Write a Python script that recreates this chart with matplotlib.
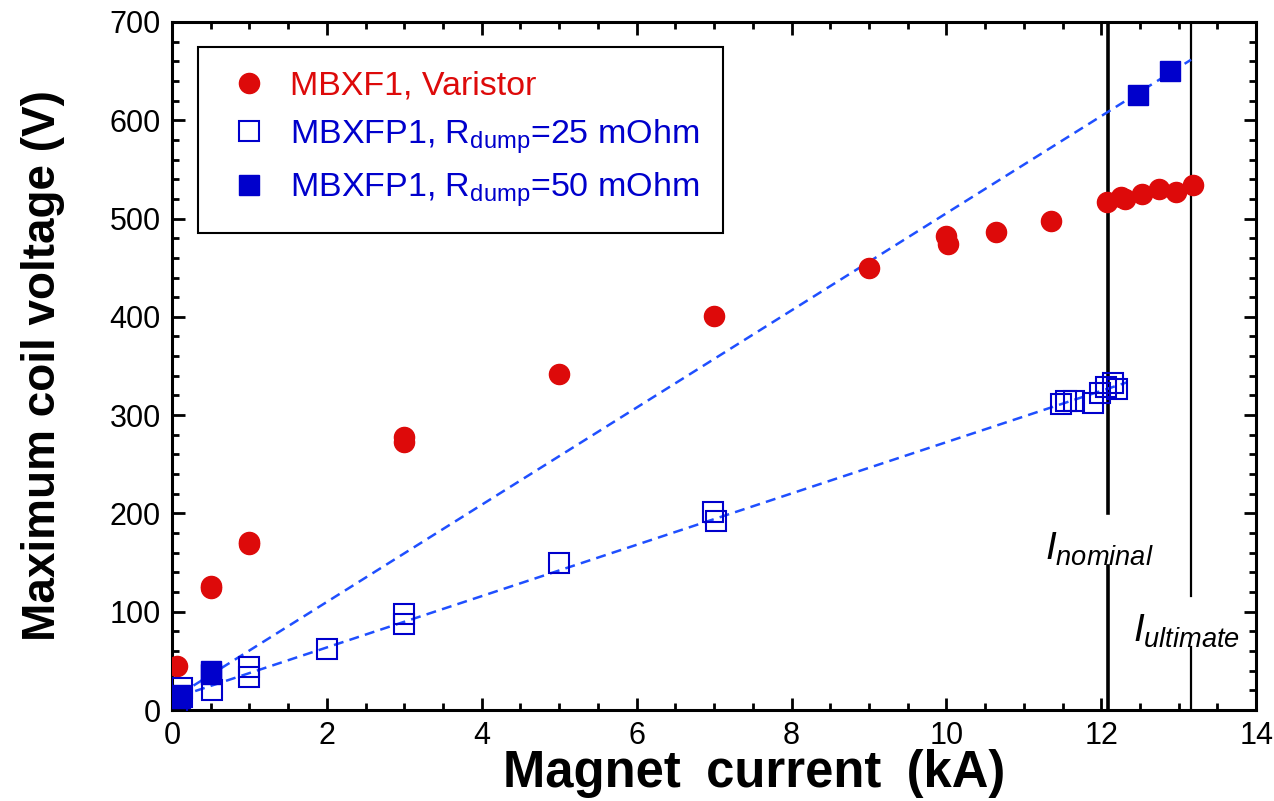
import numpy as np
import matplotlib
matplotlib.use("Agg")
import matplotlib.pyplot as plt
from matplotlib.ticker import MultipleLocator

plt.rcParams['font.family'] = ['Liberation Sans', 'DejaVu Sans']
plt.rcParams['mathtext.fontset'] = 'custom'
plt.rcParams['mathtext.rm'] = 'Liberation Sans'
plt.rcParams['mathtext.it'] = 'Liberation Sans:italic'

# MBXF1, varistor
varistor_i = [0.06, 0.5, 0.5, 1.0, 1.0, 3.0, 3.0, 5.0, 7.0, 9.0, 10.0, 10.02,
              10.64, 11.35, 12.08, 12.25, 12.3, 12.52, 12.75, 12.97, 13.19]
varistor_v = [45, 124, 126, 169, 171, 278, 273, 342, 401, 450, 482, 474,
              486, 497, 517, 522, 520, 525, 530, 527, 534]

# MBXFP1, Rdump = 25 mOhm
r25_i = [0.06, 0.13, 0.13, 0.52, 1.0, 1.0, 2.0, 3.0, 3.0, 5.0, 6.98, 7.02,
         11.48, 11.55, 11.65, 11.89, 11.98, 12.06, 12.15, 12.2]
r25_v = [0, 22, 13, 20, 44, 34, 62, 98, 88, 150, 201, 192,
         311, 314, 314, 312, 323, 329, 333, 327]

# MBXFP1, Rdump = 50 mOhm
r50_i = [0.1, 0.1, 0.5, 0.5, 12.48, 12.89]
r50_v = [15, 12, 40, 37, 626, 650]

i_nominal = 12.09
i_ultimate = 13.16

red = '#dd0a0a'
blue = '#0000cc'
dash_blue = '#1f4fff'

fig = plt.figure(figsize=(12.74, 8.01), dpi=100)
ax = fig.add_axes([0.135, 0.1136, 0.851, 0.859])

# linear fits
p25 = np.polyfit(r25_i, r25_v, 1)
x25 = np.array([0.1, 12.33])
ax.plot(x25, np.polyval(p25, x25), '--', color=dash_blue, lw=1.8, dashes=(4, 2.5), zorder=3)
p50 = np.polyfit(r50_i, r50_v, 1)
x50 = np.array([0.1, i_ultimate])
ax.plot(x50, np.polyval(p50, x50), '--', color=dash_blue, lw=1.8, dashes=(4, 2.5), zorder=3)

ax.plot(varistor_i, varistor_v, 'o', color=red, ms=14.5, mec=red,
        label='MBXF1, Varistor', zorder=4)
ax.plot(r25_i, r25_v, 's', mec=blue, mew=1.5, ms=14.5,
        label='MBXFP1, R$_{\\mathrm{dump}}$=25 mOhm', zorder=4, fillstyle='none')
ax.plot(r50_i, r50_v, 's', color=blue, ms=14.5,
        label='MBXFP1, R$_{\\mathrm{dump}}$=50 mOhm', zorder=4)

# nominal / ultimate current lines
ax.plot([i_nominal, i_nominal], [200, 700], color='black', lw=2.6, zorder=2)
ax.plot([i_nominal, i_nominal], [0, 146], color='black', lw=2.6, zorder=2)
ax.plot([i_ultimate, i_ultimate], [116, 700], color='black', lw=1.6, zorder=2)
ax.plot([i_ultimate, i_ultimate], [0, 64], color='black', lw=1.6, zorder=2)
ax.text(11.27, 163, '$I_{nominal}$', fontsize=28, va='center', ha='left')
ax.text(12.41, 80, '$I_{ultimate}$', fontsize=28, va='center', ha='left')

ax.set_xlim(0, 14)
ax.set_ylim(0, 700)
ax.xaxis.set_major_locator(MultipleLocator(2))
ax.xaxis.set_minor_locator(MultipleLocator(0.5))
ax.yaxis.set_major_locator(MultipleLocator(100))
ax.yaxis.set_minor_locator(MultipleLocator(20))
ax.tick_params(which='both', direction='in', top=True, right=True, width=2)
ax.tick_params(which='major', length=9, labelsize=22, pad=8)
ax.tick_params(which='minor', length=5)
for s in ax.spines.values():
    s.set_linewidth(2.2)

ax.set_xlabel('Magnet\u2002current\u2002(kA)', fontsize=36.5, fontweight='bold')
ax.xaxis.set_label_coords(0.537, -0.093, transform=ax.transAxes)
ax.xaxis.label.set_va('center')
ax.set_ylabel('Maximum coil voltage (V)', fontsize=33, fontweight='bold', labelpad=32)

leg = ax.legend(loc='upper left', bbox_to_anchor=(0.024, 0.9637), borderaxespad=0,
                fontsize=24.5, fancybox=False, edgecolor='black', framealpha=1,
                handletextpad=0.4, labelspacing=0.45, borderpad=0.7, handlelength=1.6)
leg.get_frame().set_linewidth(1.5)
for t, c in zip(leg.get_texts(), [red, blue, blue]):
    t.set_color(c)

fig.savefig('out.png', dpi=100)
